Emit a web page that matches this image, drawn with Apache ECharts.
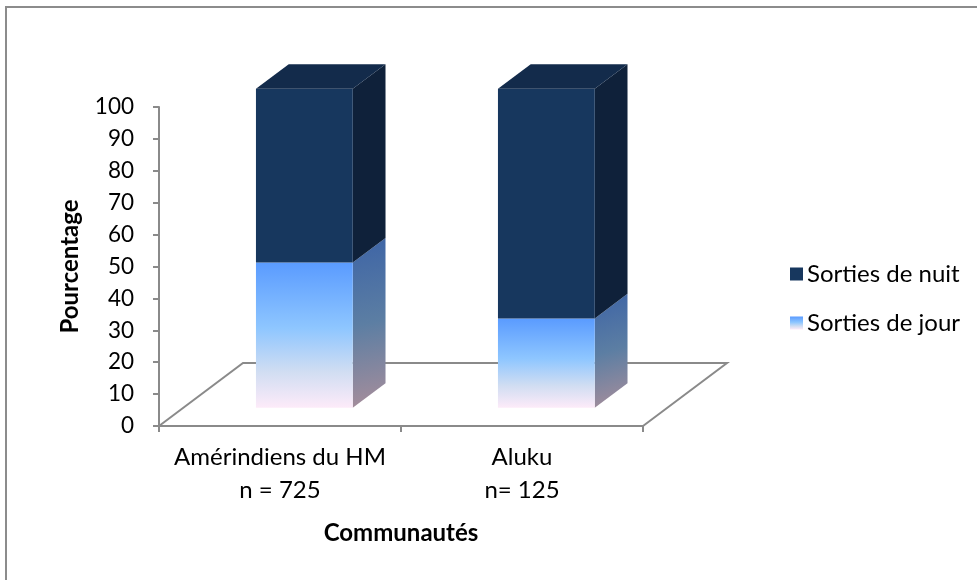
<!DOCTYPE html>
<html>
<head>
<meta charset="utf-8">
<script src="https://cdn.jsdelivr.net/npm/echarts@6/dist/echarts.min.js"></script>
<style>
html,body{margin:0;padding:0;background:#fff;}
#c{width:977px;height:580px;}
</style>
</head>
<body>
<div id="c"></div>
<script>
// ---- data ----
const categories = ['Amérindiens du HM\nn = 725', 'Aluku\nn= 125'];
const jour = [45.5, 28];
const nuit = [54.5, 72];
const seriesNames = ['Sorties de nuit', 'Sorties de jour'];
const yMin = 0, yMax = 100, yStep = 10;
const xTitle = 'Communautés';
const yTitle = 'Pourcentage';

// ---- style ----
const FONT = 'Lato';
const TXT = 24, NUM = 22.5;
const DEPTH = [84, -63];      // floor depth vector (px)
const F_FRONT = 0.29, F_BACK = 0.68;
const BAR_FRAC = 0.4;
const AXIS_GRAY = '#8a8a8a';

const dayFront = new echarts.graphic.LinearGradient(0, 0, 0, 1, [
  {offset: 0, color: '#5A9BFF'},
  {offset: 0.45, color: '#8EC6FF'},
  {offset: 0.75, color: '#D0DDF2'},
  {offset: 1, color: '#FDEBF9'}
]);
const daySide = new echarts.graphic.LinearGradient(0, 0, 1, 1, [
  {offset: 0, color: '#3D64A6'},
  {offset: 0.5, color: '#5C7EA3'},
  {offset: 1, color: '#A88E9B'}
]);
const styles = {
  nuit: {front: '#17375E', side: '#0F213A', top: '#132B4B'},
  jour: {front: dayFront, side: daySide, top: '#4A78C0'}
};

function makeBar(key, isTop) {
  return function (params, api) {
    const i = api.value(0), lo = api.value(1), hi = api.value(2);
    const p0 = api.coord([i, lo]);
    const p1 = api.coord([i, hi]);
    const band = api.size([1, 0])[0];
    const w = band * BAR_FRAC;
    const fx = p0[0] + DEPTH[0] * F_FRONT - w / 2;
    const fy0 = p0[1] + DEPTH[1] * F_FRONT;
    const fy1 = p1[1] + DEPTH[1] * F_FRONT;
    const ddx = DEPTH[0] * (F_BACK - F_FRONT), ddy = DEPTH[1] * (F_BACK - F_FRONT);
    const st = styles[key];
    const children = [
      {type: 'polygon', shape: {points: [[fx + w, fy1], [fx + w + ddx, fy1 + ddy], [fx + w + ddx, fy0 + ddy], [fx + w, fy0]]},
       style: {fill: st.side}},
      {type: 'rect', shape: {x: fx, y: fy1, width: w, height: fy0 - fy1}, style: {fill: st.front}}
    ];
    if (isTop) {
      children.push({type: 'polygon', shape: {points: [[fx, fy1], [fx + ddx, fy1 + ddy], [fx + w + ddx, fy1 + ddy], [fx + w, fy1]]},
        style: {fill: st.top}});
    }
    return {type: 'group', children: children};
  };
}

function floorRender(params, api) {
  const cs = params.coordSys;
  const fl = [cs.x, cs.y + cs.height];
  const fr = [cs.x + cs.width, cs.y + cs.height];
  const bl = [fl[0] + DEPTH[0], fl[1] + DEPTH[1]];
  const br = [fr[0] + DEPTH[0], fr[1] + DEPTH[1]];
  return {type: 'polyline', shape: {points: [fl, bl, br, fr]},
    style: {stroke: AXIS_GRAY, lineWidth: 2, fill: null}};
}

const chart = echarts.init(document.getElementById('c'));
chart.setOption({
  animation: false,
  backgroundColor: '#fff',
  textStyle: {fontFamily: FONT},
  graphic: [{type: 'rect', shape: {x: 6, y: 7, width: 1100, height: 700},
    style: {fill: null, stroke: '#8c8c8c', lineWidth: 2}, silent: true, z: -10}],
  grid: {left: 159, top: 107, width: 484, height: 319, containLabel: false},
  legend: {
    orient: 'vertical', left: 785, top: 257,
    data: seriesNames, itemWidth: 13, itemHeight: 13, itemGap: 25,
    icon: 'rect',
    textStyle: {fontFamily: FONT, fontSize: TXT, color: '#000', padding: [0, 0, 0, -1]}
  },
  xAxis: {
    type: 'category', data: categories, boundaryGap: true,
    axisLine: {lineStyle: {color: AXIS_GRAY, width: 2}},
    axisTick: {show: true, length: 6, alignWithLabel: false, lineStyle: {color: AXIS_GRAY, width: 2}},
    axisLabel: {interval: 0, fontFamily: FONT, fontSize: TXT, color: '#000', lineHeight: 33, margin: 15},
    name: xTitle, nameLocation: 'middle', nameGap: 95,
    nameTextStyle: {fontFamily: FONT, fontSize: TXT, fontWeight: 'bold', color: '#000'}
  },
  yAxis: {
    type: 'value', min: yMin, max: yMax, interval: yStep,
    axisLine: {show: true, lineStyle: {color: AXIS_GRAY, width: 2}},
    axisTick: {show: true, length: 6, lineStyle: {color: AXIS_GRAY, width: 2}},
    splitLine: {show: false},
    axisLabel: {fontFamily: FONT, fontSize: NUM, color: '#000', margin: 25},
    name: yTitle, nameLocation: 'middle', nameGap: 77, nameRotate: 90,
    nameTextStyle: {fontFamily: FONT, fontSize: TXT, fontWeight: 'bold', color: '#000'}
  },
  series: [
    {type: 'custom', name: 'floor', renderItem: floorRender, data: [[0, 0, 0]], z: 1, silent: true, clip: false},
    {type: 'custom', name: seriesNames[1], renderItem: makeBar('jour', false),
     itemStyle: {color: dayFront}, clip: false, z: 2,
     data: categories.map((c, i) => [i, 0, jour[i]])},
    {type: 'custom', name: seriesNames[0], renderItem: makeBar('nuit', true),
     itemStyle: {color: styles.nuit.front}, clip: false, z: 2,
     data: categories.map((c, i) => [i, jour[i], jour[i] + nuit[i]])}
  ]
});
</script>
</body>
</html>
